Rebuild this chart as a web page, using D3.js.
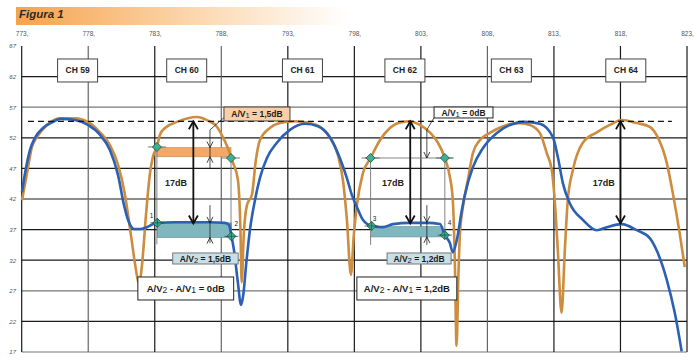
<!DOCTYPE html>
<html><head><meta charset="utf-8">
<script src="https://cdn.jsdelivr.net/npm/d3@7"></script>
<style>
body{margin:0;background:#fff;}
svg{display:block;font-family:"Liberation Sans",Arial,Helvetica,sans-serif;}
</style></head><body>
<svg id="c" width="697" height="362"></svg>
<script>
// ---------- DATA ----------
const freqTicks = d3.range(773, 824, 5);          // MHz, top axis
const dbTicks = d3.range(17, 68, 5);              // dB, left axis
const channels = ["CH 59","CH 60","CH 61","CH 62","CH 63","CH 64"];
const channelLabelMHz = [777.2, 785.4, 794.1, 801.8, 809.8, 818.4];
const channelLabelDB = 63;

// reference (orange) response
const refMHz = [773.02,773.40,773.77,774.15,774.90,775.88,777.00,777.98,778.88,779.63,780.24,780.76,781.21,781.59,781.81,782.04,782.34,782.64,782.86,783.16,783.39,783.77,784.67,786.17,786.92,787.67,788.12,788.50,788.87,789.25,789.44,789.53,789.70,789.93,790.30,790.60,790.90,791.65,792.40,793.53,794.66,795.41,796.16,796.76,797.14,797.44,797.74,797.96,798.19,798.64,799.22,799.92,800.67,801.65,802.17,802.92,803.67,804.28,804.80,805.18,805.40,805.55,805.68,805.82,805.93,806.16,806.53,806.91,807.43,808.18,809.46,810.44,811.19,811.94,812.46,812.84,813.06,813.29,813.57,813.82,814.04,814.42,815.17,816.22,817.20,818.10,819.23,820.20,820.80,821.48,821.93,822.45,822.83];
const refDB  = [41.8,46.2,50.5,52.1,54.1,55.2,55.2,54.6,52.9,50.8,47.6,42.7,36.1,30.4,28.1,31.2,39.4,46.2,48.9,50.5,52.5,53.6,54.6,55.4,54.9,53.8,52.1,50.3,48.0,45.1,36.9,28.4,36.6,41.0,42.7,48.4,51.6,53.6,54.4,54.7,54.4,53.8,52.1,49.2,45.1,38.6,29.6,36.1,41.0,46.2,48.7,51.6,53.6,54.6,54.7,54.1,52.9,51.2,48.7,45.6,41.8,32.0,18.0,29.6,36.1,40.7,45.1,49.5,51.6,52.8,54.1,54.4,54.1,52.8,49.5,46.7,41.8,33.7,23.4,33.7,41.8,46.7,51.2,52.9,54.1,54.9,54.4,53.8,52.1,47.9,43.0,36.4,30.9];

// measured (blue) signal
const sigMHz = [773.02,773.25,773.62,774.00,774.60,775.35,775.88,777.00,777.98,778.88,779.63,780.24,780.69,780.99,781.44,781.89,782.41,783.16,784.52,785.87,787.15,788.27,788.57,788.76,788.95,789.25,789.48,789.63,789.90,790.15,790.53,790.90,791.43,792.18,793.16,794.29,795.27,796.16,796.91,797.44,797.81,798.19,798.64,799.30,800.15,800.90,802.17,803.45,804.43,804.80,805.18,805.40,805.70,806.08,806.31,806.91,807.66,808.71,809.68,810.81,811.94,812.92,813.29,813.67,814.19,815.17,816.22,816.97,818.10,819.23,820.20,820.80,821.48,822.08,822.60];
const sigDB  = [43.1,46.2,50.0,52.0,53.6,54.6,55.1,54.9,54.1,52.5,50.0,45.9,41.0,38.6,37.1,37.1,37.4,38.1,38.2,38.2,38.2,38.1,37.8,36.0,33.7,28.3,24.7,26.0,32.0,36.9,41.8,45.4,48.7,51.2,53.3,54.3,53.9,52.1,48.7,45.4,42.7,40.7,38.6,37.6,37.4,37.9,38.1,38.1,37.9,36.1,34.8,33.3,35.3,40.2,42.7,47.2,50.3,52.8,54.1,54.6,54.3,52.1,48.9,44.6,41.3,38.6,36.9,37.4,37.9,36.9,35.6,33.2,28.8,23.4,17.1];

// annotations (in MHz / dB)
const peakDB = 54.7;
const peakLineMHz = [773.47, 821.86];
const diffArrowMHz = [785.9, 802.2, 818.0];
const diffArrowLowDB = 38.0;
const diffText = "17dB";
const diffTextMHz = [784.6, 800.9, 816.75];
const diffTextDB = 44.6;

const upperMarkMHz = [783.16, 788.73, 799.22, 804.80];
const upperMarkDB  = [50.5, 48.7, 48.7, 48.7];
const lowerMarkMHz = [783.19, 788.76, 799.30, 804.80];
const lowerMarkDB  = [38.1, 35.9, 37.6, 36.1];
const lowerMarkName = ["1","2","3","4"];

const labels = [
  {t:"A/V_1 = 1,5dB",        f0:788.2,  f1:793.16, d0:54.75, d1:57.03, fill:"#fbcfa6", stroke:"#444", size:8.5},
  {t:"A/V_1 = 0dB",          f0:803.99, f1:808.42, d0:55.24, d1:57.03, fill:"#ffffff", stroke:"#222", size:8.5},
  {t:"A/V_2 = 1,5dB",        f0:784.35, f1:789.27, d0:31.38, d1:33.18, fill:"#c7dfe6", stroke:"#777", size:8.5},
  {t:"A/V_2 = 1,2dB",        f0:800.46, f1:805.27, d0:31.38, d1:33.18, fill:"#c7dfe6", stroke:"#777", size:8.5},
  {t:"A/V_2 - A/V_1 = 0dB",  f0:781.73, f1:788.93, d0:25.5,  d1:29.26, fill:"#ffffff", stroke:"#222", size:9.5},
  {t:"A/V_2 - A/V_1 = 1,2dB",f0:798.19, f1:805.70, d0:25.5,  d1:29.26, fill:"#ffffff", stroke:"#222", size:9.5}
];

// ---------- CHART ----------
const svg = d3.select("#c");
const x = d3.scaleLinear().domain([773, 823]).range([21.7, 687]);
const y = d3.scaleLinear().domain([17, 67]).range([352, 46]);

// title bar
const defs = svg.append("defs");
const g1 = defs.append("linearGradient").attr("id","tg");
g1.append("stop").attr("offset","0").attr("stop-color","#f6a24c");
g1.append("stop").attr("offset","0.45").attr("stop-color","#fbcf9f");
g1.append("stop").attr("offset","1").attr("stop-color","#ffffff");
svg.append("rect").attr("x",16).attr("y",7).attr("width",332).attr("height",18).attr("fill","url(#tg)");
svg.append("text").attr("x",19).attr("y",18).attr("font-size",11.5).attr("font-weight","bold")
  .attr("font-style","italic").attr("fill","#2b2b2b").text("Figura 1");

// grid
const greyH = [57, 27, 17], greyV = [778, 788, 808];
svg.append("g").selectAll("line").data(dbTicks.filter(d => d < 67)).join("line")
  .attr("x1", x(773)).attr("x2", x(823)).attr("y1", d => y(d)).attr("y2", d => y(d))
  .attr("stroke", d => greyH.includes(d) ? "#777" : "#1a1a1a").attr("stroke-width", 1.2);
svg.append("g").selectAll("line").data(freqTicks).join("line")
  .attr("x1", d => x(d)).attr("x2", d => x(d)).attr("y1", y(67)).attr("y2", y(17))
  .attr("stroke", d => greyV.includes(d) ? "#666" : "#1a1a1a").attr("stroke-width", 1.2);

// axes (labels only)
const ax = svg.append("g").attr("transform","translate(0,36)")
  .call(d3.axisTop(x).tickValues(freqTicks).tickSize(0).tickPadding(0).tickFormat(d => d + ","));
ax.select(".domain").remove();
ax.selectAll("text").attr("font-size",6.5).attr("fill","#555").attr("font-family","'Liberation Sans Narrow','Liberation Sans',Arial");
const ay = svg.append("g").attr("transform","translate(16,0)")
  .call(d3.axisLeft(y).tickValues(dbTicks).tickSize(0).tickPadding(0));
ay.select(".domain").remove();
ay.selectAll("text").attr("font-size",6).attr("fill","#555").attr("font-style","italic");

// channel boxes
const chG = svg.append("g").selectAll("g").data(channels).join("g")
  .attr("transform", (d,i) => `translate(${x(channelLabelMHz[i])},${y(channelLabelDB)})`);
chG.append("rect").attr("x",-20).attr("y",-11.5).attr("width",40).attr("height",23)
  .attr("fill","#fff").attr("stroke","#444").attr("stroke-width",1);
chG.append("text").attr("text-anchor","middle").attr("y",3).attr("font-size",8.5)
  .attr("font-weight","bold").attr("fill","#222").text(d => d);

// shaded rectangles
function band(f0, f1, dTop, dBot, fill, stroke){
  svg.append("rect").attr("x", x(f0)).attr("y", y(dTop)).attr("width", x(f1)-x(f0))
    .attr("height", y(dBot)-y(dTop)).attr("fill", fill).attr("stroke", stroke).attr("stroke-width",0.6);
}
band(upperMarkMHz[0], upperMarkMHz[1], 50.4, 48.9, "#f4a868", "#c8864a");
band(lowerMarkMHz[0], lowerMarkMHz[1], 38.1, 35.7, "#80b7bf", "#5f8f96");
band(lowerMarkMHz[2], 804.65, 37.5, 35.8, "#80b7bf", "#5f8f96");

// thin guide lines from markers
const thin = svg.append("g").attr("stroke","#777").attr("stroke-width",0.9);
[[0,34.6],[1,35.7],[2,34.5],[3,35.9]].forEach(([i, lo]) => {
  thin.append("line").attr("x1", x(upperMarkMHz[i])).attr("x2", x(upperMarkMHz[i]))
    .attr("y1", y(upperMarkDB[i])).attr("y2", y(lo));
});
thin.append("line").attr("x1", x(798.8)).attr("x2", x(805.4)).attr("y1", y(48.7)).attr("y2", y(48.7));

// curves
const line = d3.line().curve(d3.curveMonotoneX);
svg.append("path").attr("d", line(refMHz.map((f,i) => [x(f), y(refDB[i])])))
  .attr("fill","none").attr("stroke","#cd8c3e").attr("stroke-width",2.6).attr("stroke-linejoin","round");
svg.append("path").attr("d", line(sigMHz.map((f,i) => [x(f), y(sigDB[i])])))
  .attr("fill","none").attr("stroke","#2b60b3").attr("stroke-width",2.6).attr("stroke-linejoin","round");

// dashed peak line
svg.append("line").attr("x1", x(peakLineMHz[0])).attr("x2", x(peakLineMHz[1]))
  .attr("y1", y(peakDB)).attr("y2", y(peakDB)).attr("stroke","#111").attr("stroke-width",1.2)
  .attr("stroke-dasharray","6,4");

// big 17dB arrows
function chevron(g, cx, cy, dir, w, h, sw){
  g.append("path").attr("d", `M${cx-w},${cy+dir*h} L${cx},${cy} L${cx+w},${cy+dir*h}`)
    .attr("fill","none").attr("stroke","#111").attr("stroke-width",sw);
}
const arr = svg.append("g");
diffArrowMHz.forEach((f,i) => {
  arr.append("line").attr("x1", x(f)).attr("x2", x(f)).attr("y1", y(peakDB)).attr("y2", y(diffArrowLowDB))
    .attr("stroke","#111").attr("stroke-width",1.8);
  chevron(arr, x(f), y(peakDB), 1, 4.5, 8, 1.8);
  chevron(arr, x(f), y(diffArrowLowDB), -1, 4.5, 8, 1.8);
  arr.append("text").attr("x", x(diffTextMHz[i])).attr("y", y(diffTextDB)+3).attr("text-anchor","middle")
    .attr("font-size",9).attr("font-weight","bold").attr("fill","#222").text(diffText);
});

// small dimension markers
const dim = svg.append("g");
function dimLine(f, dA, dB){
  dim.append("line").attr("x1", x(f)).attr("x2", x(f)).attr("y1", y(dA)).attr("y2", y(dB))
    .attr("stroke","#222").attr("stroke-width",0.8);
}
// CH60 upper
dimLine(787.15, 53.3, 47.0);
chevron(dim, x(787.15), y(50.4), -1, 3, 6, 0.8);
chevron(dim, x(787.15), y(48.9), 1, 3, 6, 0.8);
// CH60 lower
dimLine(787.15, 41.0, 34.8);
chevron(dim, x(787.15), y(38.1), -1, 3, 6, 0.8);
chevron(dim, x(787.15), y(35.7), 1, 3, 6, 0.8);
// CH62 upper
dimLine(803.45, 53.3, 48.7);
chevron(dim, x(803.45), y(48.7), -1, 3, 6, 0.8);
// CH62 lower
dimLine(803.45, 41.0, 34.5);
chevron(dim, x(803.45), y(38.2), -1, 3, 6, 0.8);
chevron(dim, x(803.45), y(35.8), 1, 3, 6, 0.8);
// leaders
dim.append("line").attr("x1", x(787.15)).attr("y1", y(53.3)).attr("x2", x(788.2)).attr("y2", y(55.3))
  .attr("stroke","#222").attr("stroke-width",0.8);
dim.append("line").attr("x1", x(803.45)).attr("y1", y(53.3)).attr("x2", x(803.99)).attr("y2", y(55.3))
  .attr("stroke","#222").attr("stroke-width",0.8);

// markers
function diamond(g, cx, cy, r, cross){
  if (cross) {
    g.append("line").attr("x1", cx-7).attr("x2", cx+7).attr("y1", cy).attr("y2", cy).attr("stroke","#444").attr("stroke-width",0.8);
  } else {
    g.append("line").attr("x1", cx-9).attr("x2", cx+9).attr("y1", cy).attr("y2", cy).attr("stroke","#555").attr("stroke-width",0.8);
  }
  g.append("path").attr("d", `M${cx},${cy-r} L${cx+r},${cy} L${cx},${cy+r} L${cx-r},${cy} Z`)
    .attr("fill","#3fae92").attr("stroke","#1f5e52").attr("stroke-width",0.9);
  if (cross) {
    g.append("line").attr("x1", cx).attr("x2", cx).attr("y1", cy-r).attr("y2", cy+r).attr("stroke","#1f4a44").attr("stroke-width",0.7);
    g.append("line").attr("x1", cx-r).attr("x2", cx+r).attr("y1", cy).attr("y2", cy).attr("stroke","#1f4a44").attr("stroke-width",0.7);
  }
}
const mk = svg.append("g");
upperMarkMHz.forEach((f,i) => diamond(mk, x(f), y(upperMarkDB[i]), 4.5, false));
lowerMarkMHz.forEach((f,i) => {
  diamond(mk, x(f), y(lowerMarkDB[i]), 4.5, true);
  const dx = (i % 2 === 0) ? -4 : 3;
  mk.append("text").attr("x", x(f)+dx).attr("y", y(lowerMarkDB[i]) - (i%2===0 ? 5 : 10))
    .attr("font-size",6.5).attr("fill","#222").attr("text-anchor", i%2===0 ? "end":"start").text(lowerMarkName[i]);
});
mk.selectAll("text").filter((d,i) => i === 2).attr("text-anchor","start").attr("x", x(lowerMarkMHz[2])+1);

// label boxes
const lg = svg.append("g");
labels.forEach(l => {
  const x0 = x(l.f0), x1 = x(l.f1), y0 = y(l.d1), y1 = y(l.d0);
  lg.append("rect").attr("x", x0).attr("y", y0).attr("width", x1-x0).attr("height", y1-y0)
    .attr("fill", l.fill).attr("stroke", l.stroke).attr("stroke-width",1);
  const t = lg.append("text").attr("x", (x0+x1)/2).attr("y", (y0+y1)/2 + l.size*0.36)
    .attr("text-anchor","middle").attr("font-size", l.size).attr("font-weight","bold").attr("fill","#1a1a1a");
  const parts = l.t.split(/_(\d)/);
  parts.forEach((p, k) => {
    if (k % 2 === 1) {
      t.append("tspan").attr("font-weight","normal").attr("font-size", l.size*0.9).attr("dy",1.2).text(p);
    } else if (p.length) {
      t.append("tspan").attr("dy", k === 0 ? 0 : -1.2).text(p);
    }
  });
});
</script>
</body></html>
